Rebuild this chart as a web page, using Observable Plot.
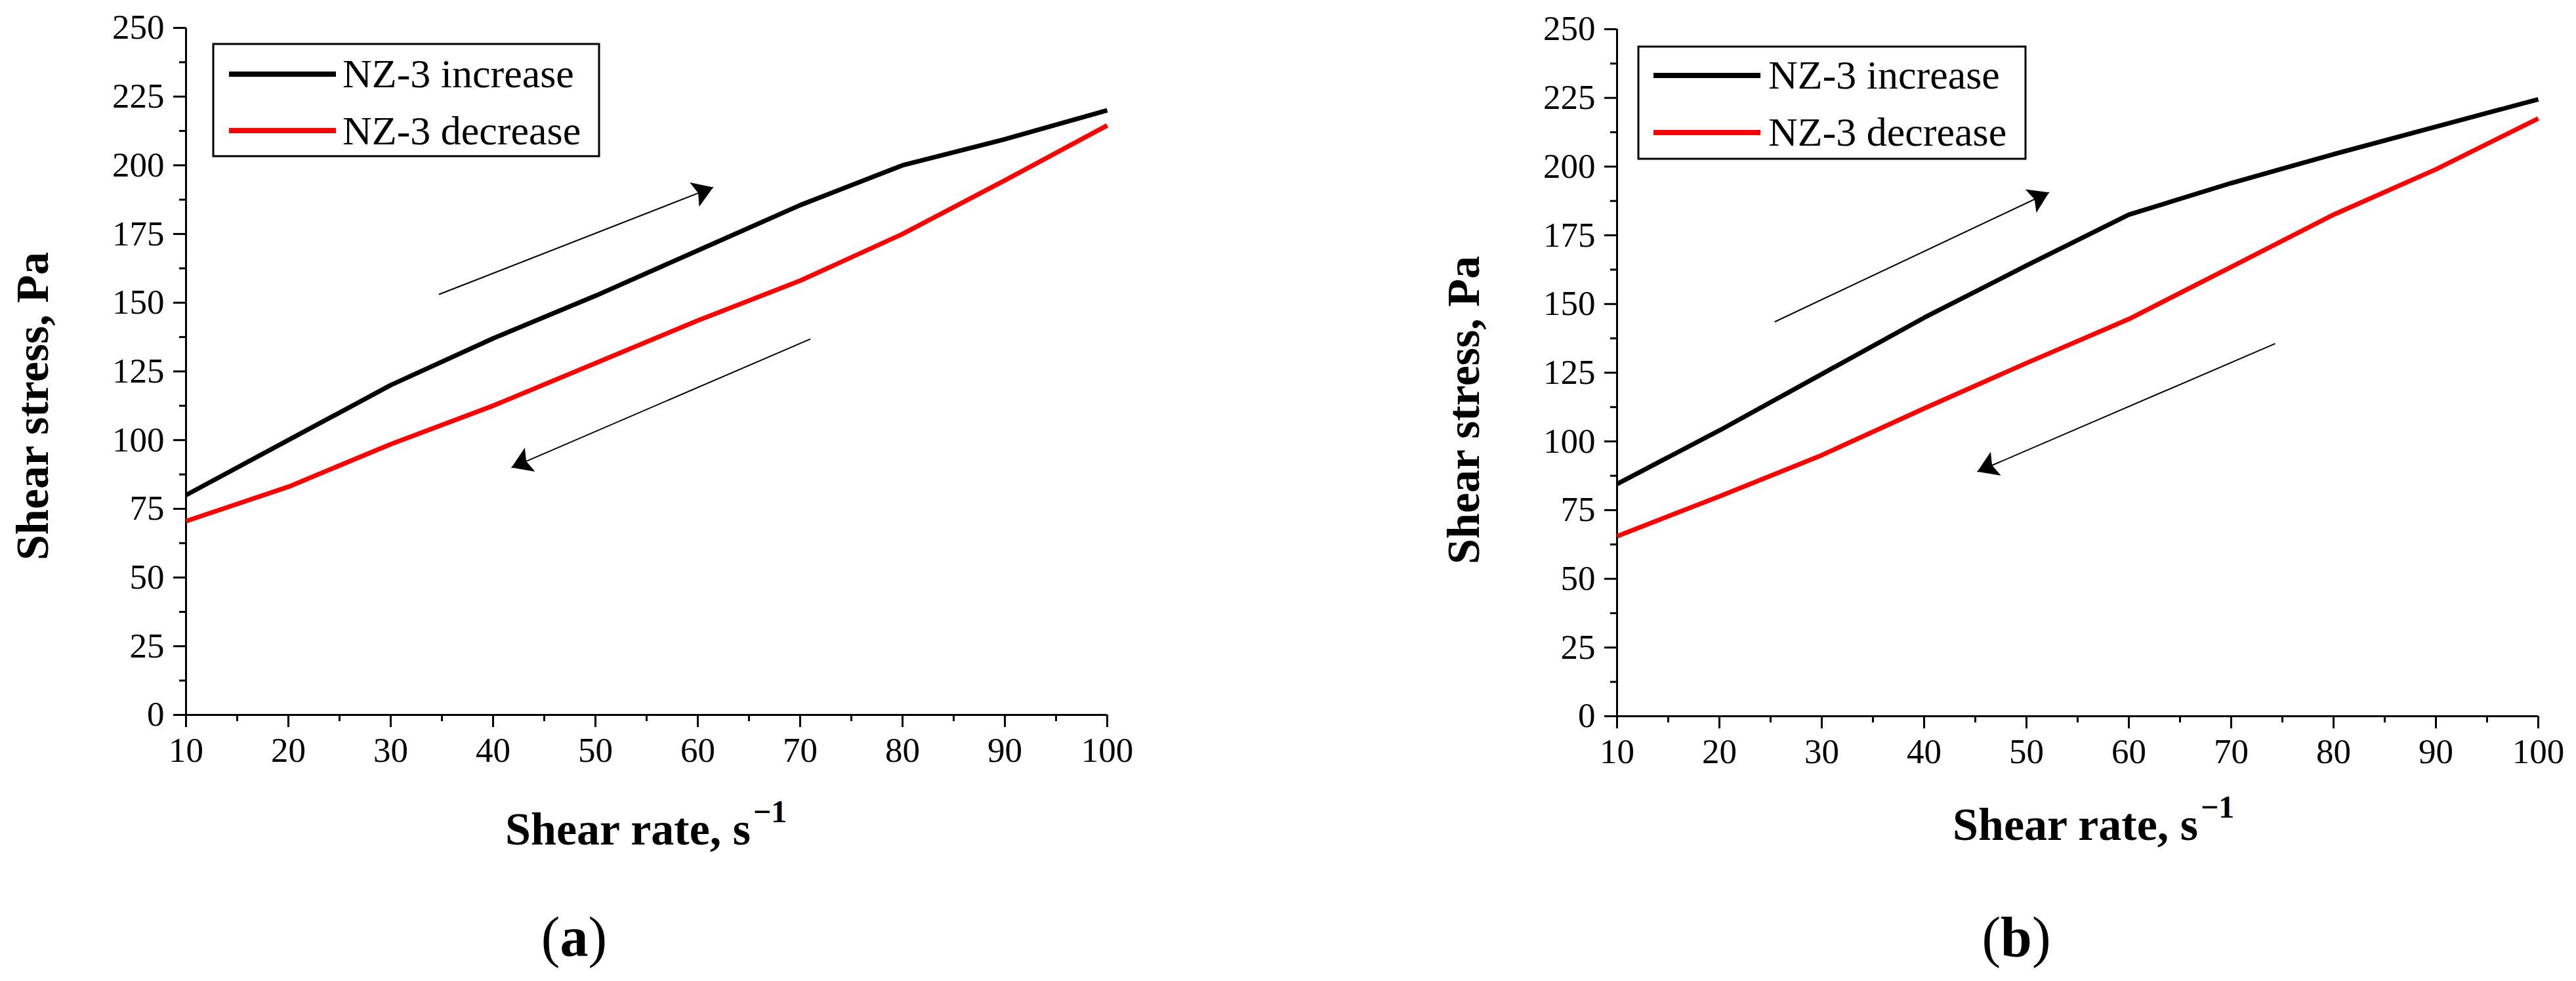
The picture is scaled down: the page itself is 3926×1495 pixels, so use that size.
<!DOCTYPE html>
<html><head><meta charset="utf-8">
<script src="https://cdn.jsdelivr.net/npm/d3@7"></script>
<script src="https://cdn.jsdelivr.net/npm/@observablehq/plot@0.6"></script>
<style>
html,body{margin:0;padding:0;background:#fff;}
#page{position:relative;width:3926px;height:1495px;overflow:hidden;background:#fff;}
#page svg{position:absolute;top:0;}
</style></head><body><div id="page"></div>
<script>
// ---- data ----
const shearRate = [10, 20, 30, 40, 50, 60, 70, 80, 90, 100];
const increaseA = [80, 100, 120, 137, 152.5, 169, 185.5, 200, 209.5, 220];
const decreaseA = [70.5, 83, 98.5, 112.5, 128, 143.5, 158, 175, 194.5, 214.5];
const increaseB = [84.5, 104, 124.5, 145, 164, 182.5, 194, 204.5, 214.5, 224.5];
const decreaseB = [65.5, 80, 95, 112, 128.5, 144.5, 163.5, 182.5, 199, 217.5];
const seriesNames = ["NZ-3 increase", "NZ-3 decrease"];
const seriesColors = ["#000000", "#ff0000"];
const xTicks = [10, 20, 30, 40, 50, 60, 70, 80, 90, 100];
const xMinorTicks = [15, 25, 35, 45, 55, 65, 75, 85, 95];
const yTicks = [0, 25, 50, 75, 100, 125, 150, 175, 200, 225, 250];
const yMinorTicks = [12.5, 37.5, 62.5, 87.5, 112.5, 137.5, 162.5, 187.5, 212.5, 237.5];
// arrows: [up arrow, down arrow]
const arrowX1A = [34.7, 71], arrowY1A = [153, 136.8], arrowX2A = [61.5, 41.8], arrowY2A = [192, 90];
const arrowX1B = [25.4, 74.3], arrowY1B = [143.5, 135.6], arrowX2B = [52.2, 45.2], arrowY2B = [190.6, 89];
const xLabel = "Shear rate, s";
const xLabelSup = "\u22121";
const yLabel = "Shear stress, Pa";

const FONT = "'Liberation Serif', 'DejaVu Serif', serif";
const H_TOTAL = 1495;

const arrowHead = {
  draw(ctx, size) {
    const r = Math.sqrt(size / Math.PI);
    const L = 1.7 * r, hw = 1.1 * r;
    ctx.moveTo(0, 0);
    ctx.lineTo(-L, -hw);
    ctx.lineTo(-L * 0.8, 0);
    ctx.lineTo(-L, hw);
    ctx.closePath();
  }
};

function panel(cfg) {
  const {left, width, ml, mr, mt, mb, inc, dec, ax1, ay1, ax2, ay2, legend, yLab, xLab, caption, tag} = cfg;
  const height = H_TOTAL;
  const xs = d3.scaleLinear([10, 100], [ml, width - mr]);
  const ys = d3.scaleLinear([0, 250], [height - mb, mt]);
  const rows = [];
  shearRate.forEach((x, i) => rows.push({x, y: inc[i], s: seriesNames[0]}));
  shearRate.forEach((x, i) => rows.push({x, y: dec[i], s: seriesNames[1]}));
  const arrows = ax1.map((_, i) => ({
    x1: ax1[i], y1: ay1[i], x2: ax2[i], y2: ay2[i],
    angle: Math.atan2(ys(ay2[i]) - ys(ay1[i]), xs(ax2[i]) - xs(ax1[i])) * 180 / Math.PI
  }));
  const svg = Plot.plot({
    width, height,
    marginLeft: ml, marginRight: mr, marginTop: mt, marginBottom: mb,
    style: {fontFamily: FONT, color: "#000", background: "transparent", overflow: "visible"},
    x: {domain: [10, 100], label: null},
    y: {domain: [0, 250], label: null},
    color: {domain: seriesNames, range: seriesColors},
    marks: [
      Plot.axisX({ticks: xTicks, tickSize: 19, tickPadding: 15, fontSize: 53, strokeWidth: 3, tickFormat: d => String(d), label: null}),
      Plot.axisX({ticks: xMinorTicks, tickSize: 10, strokeWidth: 3, tickFormat: () => "", label: null}),
      Plot.axisY({ticks: yTicks, tickSize: 19, tickPadding: 14, fontSize: 53, strokeWidth: 3, tickFormat: d => String(d), label: null}),
      Plot.axisY({ticks: yMinorTicks, tickSize: 10, strokeWidth: 3, tickFormat: () => "", label: null}),
      Plot.ruleY([0], {stroke: "#000", strokeWidth: 3}),
      Plot.ruleX([10], {stroke: "#000", strokeWidth: 3}),
      Plot.line(rows, {x: "x", y: "y", z: "s", stroke: "s", strokeWidth: 7, strokeLinejoin: "miter", strokeLinecap: "butt"}),
      Plot.link(arrows, {x1: "x1", y1: "y1", x2: "x2", y2: "y2", stroke: "#000", strokeWidth: 2}),
      Plot.dot(arrows, {x: "x2", y: "y2", symbol: arrowHead, r: 18, fill: "#000", stroke: null, rotate: "angle"})
    ]
  });
  svg.style.left = left + "px";
  const g = d3.select(svg).append("g").attr("font-family", FONT).attr("fill", "#000").attr("text-anchor", "start");
  // legend
  g.append("rect").attr("x", legend.x).attr("y", legend.y).attr("width", legend.w).attr("height", legend.h)
    .attr("fill", "#fff").attr("stroke", "#000").attr("stroke-width", 3);
  seriesNames.forEach((name, i) => {
    const ly = legend.ly[i];
    g.append("line").attr("x1", legend.lx1).attr("x2", legend.lx2).attr("y1", ly).attr("y2", ly)
      .attr("stroke", seriesColors[i]).attr("stroke-width", 8);
    g.append("text").attr("x", legend.tx).attr("y", legend.tb[i]).attr("text-anchor", "start")
      .attr("font-size", 62).text(name);
  });
  // y label
  g.append("text").attr("transform", `translate(${yLab.x},${yLab.y}) rotate(-90)`)
    .attr("text-anchor", "middle").attr("dominant-baseline", "central")
    .attr("font-size", 70).attr("font-weight", "bold").text(yLabel);
  // x label
  g.append("text").attr("x", xLab.x).attr("y", xLab.y).attr("text-anchor", "end")
    .attr("font-size", 70).attr("font-weight", "bold").text(xLabel);
  g.append("text").attr("x", xLab.x + 4).attr("y", xLab.y - 34).attr("text-anchor", "start")
    .attr("font-size", 48).attr("font-weight", "bold").text(xLabelSup);
  // caption
  const c = g.append("text").attr("x", caption.x).attr("y", caption.y).attr("text-anchor", "middle").attr("font-size", 86);
  c.append("tspan").text("(");
  c.append("tspan").attr("font-weight", "bold").text(tag);
  c.append("tspan").text(")");
  document.getElementById("page").appendChild(svg);
}

panel({
  left: 0, width: 1800, ml: 283, mr: 1800 - 1687, mt: 42, mb: H_TOTAL - 1089,
  inc: increaseA, dec: decreaseA, ax1: arrowX1A, ay1: arrowY1A, ax2: arrowX2A, ay2: arrowY2A,
  legend: {x: 325, y: 67, w: 588, h: 171, lx1: 349, lx2: 512, ly: [113, 199], tx: 522, tb: [133, 220]},
  yLab: {x: 49, y: 619}, xLab: {x: 1144, y: 1287}, caption: {x: 875, y: 1457}, tag: "a"
});
panel({
  left: 2100, width: 1826, ml: 364, mr: 1826 - 1768, mt: 44, mb: H_TOTAL - 1091,
  inc: increaseB, dec: decreaseB, ax1: arrowX1B, ay1: arrowY1B, ax2: arrowX2B, ay2: arrowY2B,
  legend: {x: 397, y: 71, w: 590, h: 171, lx1: 420, lx2: 583, ly: [115, 202], tx: 595, tb: [135, 222]},
  yLab: {x: 130, y: 625}, xLab: {x: 1250, y: 1280}, caption: {x: 973, y: 1457}, tag: "b"
});
</script>
</body></html>
